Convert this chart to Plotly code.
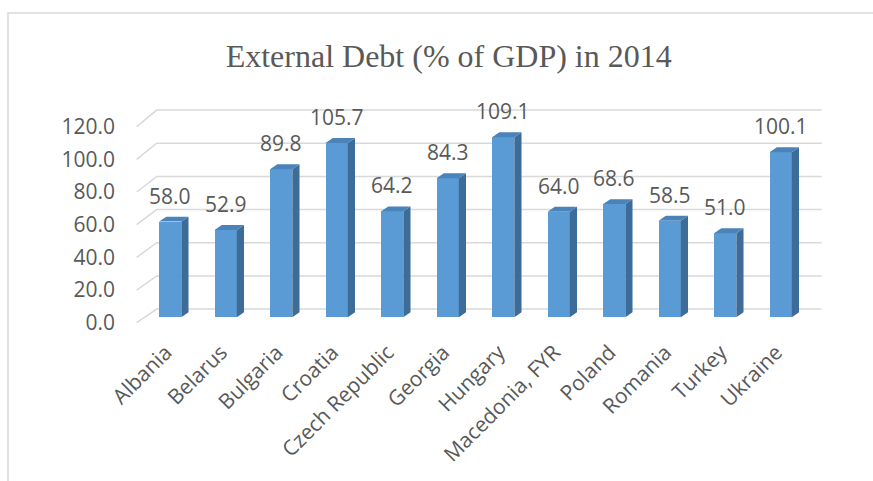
import plotly.graph_objects as go

# ---- data ----
countries = ["Albania", "Belarus", "Bulgaria", "Croatia", "Czech Republic", "Georgia",
             "Hungary", "Macedonia, FYR", "Poland", "Romania", "Turkey", "Ukraine"]
debt = [58.0, 52.9, 89.8, 105.7, 64.2, 84.3, 109.1, 64.0, 68.6, 58.5, 51.0, 100.1]
grid_values = [0, 20, 40, 60, 80, 100, 120]
grid_labels = ["0.0", "20.0", "40.0", "60.0", "80.0", "100.0", "120.0"]
title_text = "External Debt (% of GDP) in 2014"

# ---- style constants ----
W, H = 873, 481
ML, MR, MT, MB = 120, 30, 100, 150
TXT = "#595959"
FRONT = "#5B9BD5"
SIDE = "#3E6C98"
TOP = "#4A82BA"
GRID = "#D9D9D9"
HALF = 0.2          # half width of bar front face (category units)
DX, DY = 0.13, 3.0  # 3-D depth offset (x units, value units)
LABEL_SHIFT = -0.08 # category label offset (x units)

idx = list(range(len(countries)))

fig = go.Figure()

# side and top faces (3-D look), built from the data values
for i, v in zip(idx, debt):
    xr = i + HALF
    xl = i - HALF
    fig.add_trace(go.Scatter(
        x=[xr, xr + DX, xr + DX, xr, xr], y=[0, DY, v + DY, v, 0],
        mode="lines", fill="toself", fillcolor=SIDE, line=dict(width=0, color=SIDE),
        hoverinfo="skip", showlegend=False))
    fig.add_trace(go.Scatter(
        x=[xl, xl + DX, xr + DX, xr, xl], y=[v, v + DY, v + DY, v, v],
        mode="lines", fill="toself", fillcolor=TOP, line=dict(width=0, color=TOP),
        hoverinfo="skip", showlegend=False))

# front faces
fig.add_trace(go.Bar(x=idx, y=debt, width=2 * HALF, marker=dict(color=FRONT, line=dict(width=0)),
                     showlegend=False, hoverinfo="x+y"))

# data labels
for i, v in zip(idx, debt):
    fig.add_annotation(x=i, y=v, text=f"{v:.1f}", showarrow=False, yshift=26,
                       yanchor="middle", xanchor="center",
                       font=dict(family="Open Sans", size=21, color=TXT))

# 3-D gridlines (front diagonal + back wall line)
x_front, x_back, x_right = -0.6036, -0.243, 11.739
front_pos = [g * 0.99 - 3.27 for g in grid_values]
back_pos = [g * 1.005 + 5.0 for g in grid_values]
for gf, gb in zip(front_pos, back_pos):
    fig.add_shape(type="path", xref="x", yref="y", layer="below",
                  path=f"M {x_front},{gf} L {x_back},{gb} L {x_right},{gb}",
                  line=dict(color=GRID, width=1.5))

# chart border
pw = W - ML - MR
ph = H - MT - MB
fig.add_shape(type="rect", xref="paper", yref="paper",
              x0=(8 - ML) / pw, x1=(880 - ML) / pw,
              y0=(H - MB - 490) / ph, y1=(H - MB - 13) / ph,
              line=dict(color=GRID, width=1.5), fillcolor="rgba(0,0,0,0)")

fig.update_layout(
    width=W, height=H,
    margin=dict(l=ML, r=MR, t=MT, b=MB, pad=0),
    paper_bgcolor="white", plot_bgcolor="white",
    title=dict(text=title_text, x=448.7 / W, xref="container", xanchor="center",
               y=1 - 56 / H, yref="container", yanchor="middle",
               font=dict(family="Liberation Serif", size=32, color=TXT)),
    xaxis=dict(range=[(ML - 170.2) / 55.5, (W - MR - 170.2) / 55.5],
               tickmode="array", tickvals=[i + LABEL_SHIFT for i in idx],
               ticktext=countries, tickangle=-45,
               showgrid=False, zeroline=False, showline=False, ticks="",
               ticklabelstandoff=4,
               tickfont=dict(family="Open Sans", size=21, color=TXT)),
    yaxis=dict(range=[(317.3 - (H - MB)) / 1.65, (317.3 - MT) / 1.65],
               tickmode="array", tickvals=front_pos, ticktext=grid_labels,
               showgrid=False, zeroline=False, showline=False, ticks="",
               ticklabelstandoff=4,
               tickfont=dict(family="Open Sans", size=21, color=TXT)),
    bargap=0,
)

fig.write_html("out.html")
